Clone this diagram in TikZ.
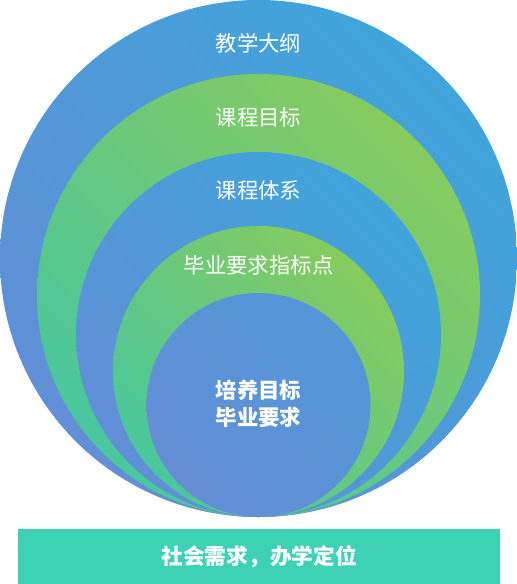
\documentclass[tikz,border=0pt]{standalone}
\usepackage{fontspec}
\usetikzlibrary{shadings}
\newfontfamily\cjk{Noto Sans CJK SC}
\definecolor{bluell}{HTML}{6A8BD6}
\definecolor{blueur}{HTML}{38AADB}
\definecolor{bluemid}{HTML}{5099D8}
\definecolor{greenll}{HTML}{3CC6AA}
\definecolor{greenur}{HTML}{94CC50}
\definecolor{greenmid}{HTML}{68C97E}
\definecolor{barcol}{HTML}{3DD2B6}
\tikzset{
  bluedisc/.style={lower left=bluell, upper right=blueur, upper left=bluemid, lower right=bluemid},
  greendisc/.style={lower left=greenll, upper right=greenur, upper left=greenmid, lower right=greenmid},
  lbl/.style={text=white, font=\cjk\fontsize{21.4}{25}\selectfont, inner sep=0pt},
  blbl/.style={text=white, font=\cjk\bfseries\fontsize{21.4}{27}\selectfont, inner sep=0pt, align=center},
}
\begin{document}
\begin{tikzpicture}[x=1pt,y=-1pt]
\useasboundingbox (0,0) rectangle (517,584);
\shade[bluedisc] (258.5,258.5) circle (258.5);
\shade[greendisc] (258.5,295.5) circle (221.5);
\shade[bluedisc] (258.5,334.5) circle (182.5);
\shade[greendisc] (258.5,371.5) circle (145.5);
\shade[lower left=bluell, upper right=bluemid, upper left=bluemid!60!bluell, lower right=bluemid!60!bluell] (258.5,405) circle (112);
\node[lbl] (t1) at (258.5,43) {教学大纲};
\node[lbl] (t2) at (258.5,117) {课程目标};
\node[lbl] (t3) at (258.5,190) {课程体系};
\node[lbl] (t4) at (258.5,265) {毕业要求指标点};
\node[blbl] (t5) at (258.5,404) {培养目标\\毕业要求};
\node[fill=barcol, minimum width=482pt, minimum height=55pt, inner sep=0pt, anchor=north west] (bar) at (18,529) {};
\node[blbl, font=\cjk\bfseries\fontsize{21.7}{27}\selectfont] (t6) at (bar.center) {社会需求，办学定位};
\end{tikzpicture}
\end{document}
